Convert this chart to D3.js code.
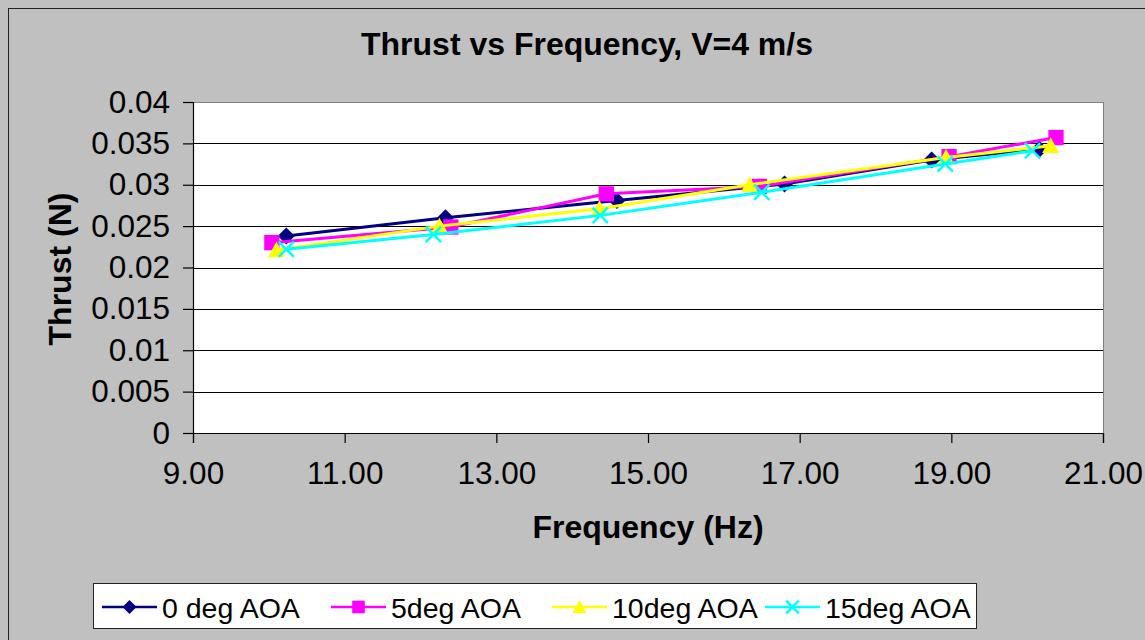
<!DOCTYPE html>
<html>
<head>
<meta charset="utf-8">
<script src="https://cdn.jsdelivr.net/npm/d3@7"></script>
<style>
  body { margin: 0; background: #c0c0c0; }
  text { font-family: "Liberation Sans", Arial, sans-serif; fill: #000; }
</style>
</head>
<body>
<div id="chart"></div>
<script>
// values
const seriesNames = ["0 deg AOA", "5deg AOA", "10deg AOA", "15deg AOA"];
const freq0 = [10.23, 12.33, 14.59, 16.80, 18.74, 20.16];
const thrust0 = [0.0238, 0.0260, 0.0281, 0.0301, 0.0330, 0.0343];
const freq5 = [10.04, 12.40, 14.45, 16.47, 18.97, 20.38];
const thrust5 = [0.0230, 0.0249, 0.0289, 0.0298, 0.0334, 0.0357];
const freq10 = [10.10, 12.25, 14.36, 16.34, 18.93, 20.31];
const thrust10 = [0.0221, 0.0250, 0.0271, 0.0300, 0.0333, 0.0347];
const freq15 = [10.23, 12.17, 14.37, 16.50, 18.92, 20.07];
const thrust15 = [0.0222, 0.0240, 0.0263, 0.0291, 0.0325, 0.0341];
const xTicks = [9, 11, 13, 15, 17, 19, 21];
const yTicks = [0, 0.005, 0.01, 0.015, 0.02, 0.025, 0.03, 0.035, 0.04];

const colors = ["#000080", "#ff00ff", "#ffff00", "#00ffff"];
const markerTypes = ["diamond", "square", "triangle", "x"];

const series = [
  [freq0, thrust0], [freq5, thrust5], [freq10, thrust10], [freq15, thrust15]
].map(function (s, i) {
  return { name: seriesNames[i], pts: s[0].map(function (f, j) { return [f, s[1][j]]; }) };
});

const W = 1145, H = 640;
const margin = { top: 102, right: 42, bottom: 207, left: 193 };
const width = W - margin.left - margin.right,
  height = H - margin.top - margin.bottom;

const svg = d3.select("#chart").append("svg")
  .attr("width", W).attr("height", H);

// chart area
svg.append("rect")
  .attr("x", 8.5).attr("y", 8.5)
  .attr("width", W + 10).attr("height", H + 10)
  .attr("fill", "#c0c0c0").attr("stroke", "#222").attr("stroke-width", 1);

svg.append("text")
  .attr("x", 587).attr("y", 55)
  .attr("text-anchor", "middle")
  .style("font-size", "32px").style("font-weight", "bold")
  .text("Thrust vs Frequency, V=4 m/s");

const g = svg.append("g")
  .attr("transform", "translate(" + margin.left + "," + margin.top + ")");

const x = d3.scaleLinear().domain([9, 21]).range([0, width]);
const y = d3.scaleLinear().domain([0, 0.04]).range([height, 0]);

g.append("rect")
  .attr("width", width).attr("height", height)
  .attr("fill", "#fff").attr("stroke", "#808080").attr("stroke-width", 1)
  .attr("shape-rendering", "crispEdges");

// gridlines
g.selectAll(".grid").data(yTicks.slice(1, -1)).enter().append("line")
  .attr("class", "grid")
  .attr("x1", 0).attr("x2", width)
  .attr("y1", function (d) { return Math.round(y(d)) + 0.5; })
  .attr("y2", function (d) { return Math.round(y(d)) + 0.5; })
  .attr("stroke", "#000").attr("stroke-width", 1);

const yAxis = g.append("g")
  .call(d3.axisLeft(y).tickValues(yTicks).tickSize(10).tickPadding(13)
    .tickFormat(function (d) { return d === 0 ? "0" : String(+d.toFixed(3)); }));
const xAxis = g.append("g")
  .attr("transform", "translate(0," + height + ")")
  .call(d3.axisBottom(x).tickValues(xTicks).tickSize(10).tickPadding(15)
    .tickFormat(d3.format(".2f")));

[yAxis, xAxis].forEach(function (a) {
  a.select(".domain").attr("stroke", "#000").attr("stroke-width", 1.2);
  a.selectAll(".tick line").attr("stroke", "#000").attr("stroke-width", 1.2);
  a.selectAll("text").style("font-size", "31.5px")
    .style("font-family", "'Liberation Sans', Arial, sans-serif");
});
xAxis.selectAll("text").attr("dy", "0.82em");

svg.append("text")
  .attr("x", 648).attr("y", 538)
  .attr("text-anchor", "middle")
  .style("font-size", "32px").style("font-weight", "bold")
  .text("Frequency (Hz)");

svg.append("text")
  .attr("transform", "translate(71,269) rotate(-90)")
  .attr("text-anchor", "middle")
  .style("font-size", "32px").style("font-weight", "bold")
  .text("Thrust (N)");

function drawMarker(sel, i, size) {
  const r = size / 2;
  const type = markerTypes[i];
  if (type === "x") {
    const q = r * 0.9;
    sel.append("path")
      .attr("d", "M" + (-q) + "," + (-q) + "L" + q + "," + q + "M" + (-q) + "," + q + "L" + q + "," + (-q))
      .attr("stroke", colors[i]).attr("stroke-width", 2.5).attr("fill", "none");
    return;
  }
  let d;
  if (type === "diamond") d = "M0," + (-r) + "L" + r + ",0L0," + r + "L" + (-r) + ",0Z";
  else if (type === "square") { const s = r * 0.9; d = "M" + (-s) + "," + (-s) + "H" + s + "V" + s + "H" + (-s) + "Z"; }
  else d = "M0," + (-r) + "L" + r + "," + (r * 0.85) + "L" + (-r) + "," + (r * 0.85) + "Z";
  sel.append("path").attr("d", d).attr("fill", colors[i]);
}

const line = d3.line()
  .x(function (d) { return x(d[0]); })
  .y(function (d) { return y(d[1]); });

series.forEach(function (s, i) {
  const sg = g.append("g");
  sg.append("path")
    .datum(s.pts)
    .attr("d", line)
    .attr("fill", "none")
    .attr("stroke", colors[i])
    .attr("stroke-width", 3);
  s.pts.forEach(function (p) {
    const m = sg.append("g").attr("transform", "translate(" + x(p[0]) + "," + y(p[1]) + ")");
    drawMarker(m, i, 17);
  });
});

// legend
const legend = svg.append("g");
legend.append("rect")
  .attr("x", 93.5).attr("y", 583.5).attr("width", 883).attr("height", 45)
  .attr("fill", "#fff").attr("stroke", "#222").attr("stroke-width", 1);

const legendX = [102, 331, 552, 765];
series.forEach(function (s, i) {
  const lg = legend.append("g").attr("transform", "translate(" + legendX[i] + ",607)");
  lg.append("line").attr("x1", 0).attr("x2", 55)
    .attr("stroke", colors[i]).attr("stroke-width", 2.5);
  drawMarker(lg.append("g").attr("transform", "translate(27.5,0)"), i, 14);
  lg.append("text").attr("x", 60).attr("y", 11)
    .style("font-size", "28.5px").text(s.name);
});
</script>
</body>
</html>
